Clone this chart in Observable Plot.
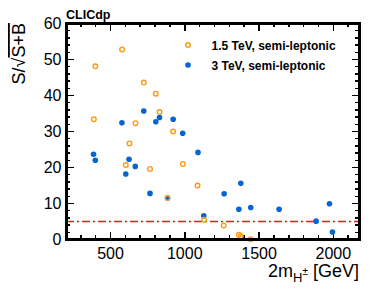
<!DOCTYPE html>
<html><head><meta charset="utf-8">
<script src="https://cdn.jsdelivr.net/npm/d3@7"></script>
<script src="https://cdn.jsdelivr.net/npm/@observablehq/plot@0.6"></script>
<style>
body{margin:0;background:#fff;}
#chart{position:relative;width:390px;height:292px;}
</style></head><body><div id="chart"></div>
<script>
// 1.5 TeV, semi-leptonic (open orange circles)
const mass15 = [398, 388, 578, 603, 628, 668, 724, 766, 805, 830, 884, 922, 987, 1086, 1130, 1262, 1364, 1377, 1444];
const sig15  = [48.1, 33.4, 52.8, 20.7, 26.7, 32.3, 43.6, 19.6, 40.5, 35.4, 11.5, 30.0, 21.0, 15.0, 5.5, 3.9, 1.3, 0.9, 0.1];
// 3 TeV, semi-leptonic (filled blue circles)
const mass3 = [386, 398, 577, 603, 625, 667, 724, 766, 805, 830, 884, 922, 986, 1089, 1128, 1265, 1364, 1377, 1444, 1635, 1884, 1974, 1994];
const sig3  = [23.7, 22.0, 32.4, 18.2, 22.3, 20.3, 35.7, 12.8, 32.7, 33.9, 11.5, 33.4, 29.5, 24.2, 6.6, 12.7, 8.4, 15.6, 8.9, 8.4, 5.1, 9.9, 2.1];
const threshold = [5];
const seriesLabels = ["1.5 TeV, semi-leptonic", "3 TeV, semi-leptonic"];
const xTicks = [500, 1000, 1500, 2000];
const xMinor = [300, 400, 600, 700, 800, 900, 1100, 1200, 1300, 1400, 1600, 1700, 1800, 1900, 2100];
const yTicks = [0, 10, 20, 30, 40, 50, 60];
const yMinor = [2, 4, 6, 8, 12, 14, 16, 18, 22, 24, 26, 28, 32, 34, 36, 38, 42, 44, 46, 48, 52, 54, 56, 58];

const W = 390, H = 292, mL = 66, mR = 31, mT = 23, mB = 53;
const xDom = [204, 2176], yDom = [0, 60];
const ux = (xDom[1] - xDom[0]) / (W - mL - mR);
const uy = (yDom[1] - yDom[0]) / (H - mT - mB);
const ORANGE = "#f89c14", BLUE = "#0865cf", RED = "#ff1010";
const FONT = "'Liberation Sans', Arial, Helvetica, sans-serif";

const d15 = mass15.map((m, i) => ({m, s: sig15[i]}));
const d3v = mass3.map((m, i) => ({m, s: sig3[i]}));

const tickStyle = {stroke: "black", strokeWidth: 1.5, shapeRendering: "crispEdges"};
function xTickRules(vals, len) {
  return [
    Plot.ruleX(vals, {y1: yDom[0], y2: yDom[0] + len * uy, ...tickStyle}),
    Plot.ruleX(vals, {y1: yDom[1], y2: yDom[1] - len * uy, ...tickStyle})
  ];
}
function yTickRules(vals, len) {
  return [
    Plot.ruleY(vals, {x1: xDom[0], x2: xDom[0] + len * ux, ...tickStyle}),
    Plot.ruleY(vals, {x1: xDom[1], x2: xDom[1] - len * ux, ...tickStyle})
  ];
}

const chart = Plot.plot({
  width: W, height: H,
  marginLeft: mL, marginRight: mR, marginTop: mT, marginBottom: mB,
  style: {fontFamily: FONT, fontSize: "16px", color: "black", background: "white"},
  x: {domain: xDom},
  y: {domain: yDom},
  marks: [
    Plot.ruleY(threshold, {stroke: RED, strokeWidth: 1.6, strokeDasharray: "8,3,2,3"}),
    ...xTickRules(xTicks, 7.5), ...xTickRules(xMinor, 4),
    ...yTickRules(yTicks, 7.5), ...yTickRules(yMinor, 4),
    Plot.axisX(xTicks, {tickSize: 0, tickPadding: 8, fontSize: 16, label: null, tickFormat: d => String(d)}),
    Plot.axisY(yTicks, {tickSize: 0, tickPadding: 5, fontSize: 16, label: null, tickFormat: d => String(d)}),
    Plot.dot(d3v, {x: "m", y: "s", r: 2.8, fill: BLUE, stroke: "none"}),
    Plot.dot(d15, {x: "m", y: "s", r: 2.3, fill: "none", stroke: ORANGE, strokeWidth: 1.4}),
    Plot.frame({stroke: "black", strokeWidth: 2.5, shapeRendering: "crispEdges"})
  ]
});
document.getElementById("chart").appendChild(chart);

const svg = d3.select(chart);
// CLICdp label
svg.append("text").attr("x", 66).attr("y", 19).attr("text-anchor", "start").attr("font-family", FONT)
  .attr("font-weight", "bold").attr("font-size", 12.5).attr("fill", "black").text("CLICdp");
// Y title
const yt = svg.append("text").attr("transform", "translate(25,23) rotate(-90)")
  .attr("text-anchor", "end").attr("font-family", FONT).attr("font-size", 18).attr("fill", "black");
yt.append("tspan").text("S/\u221A");
yt.append("tspan").style("text-decoration", "overline").text("S+B");
// X title
const xt = svg.append("text").attr("x", 359).attr("y", 277).attr("text-anchor", "end")
  .attr("font-family", FONT).attr("font-size", 18).attr("fill", "black");
xt.append("tspan").text("2m");
xt.append("tspan").attr("font-size", 13).attr("dy", 5).text("H");
xt.append("tspan").attr("font-size", 10).attr("dy", -7).text("\u00B1");
xt.append("tspan").attr("dy", 2).text(" [GeV]");
// Legend
const lg = svg.append("g");
lg.append("circle").attr("cx", 188).attr("cy", 45).attr("r", 2.3)
  .attr("fill", "none").attr("stroke", ORANGE).attr("stroke-width", 1.4);
lg.append("circle").attr("cx", 188).attr("cy", 65).attr("r", 2.8).attr("fill", BLUE);
lg.selectAll("text.l").data(seriesLabels).join("text")
  .attr("x", 211.5).attr("y", (d, i) => 50 + i * 19.5).attr("text-anchor", "start")
  .attr("font-family", FONT).attr("font-weight", "bold").attr("font-size", 12)
  .attr("fill", "black").text(d => d);
</script></body></html>
